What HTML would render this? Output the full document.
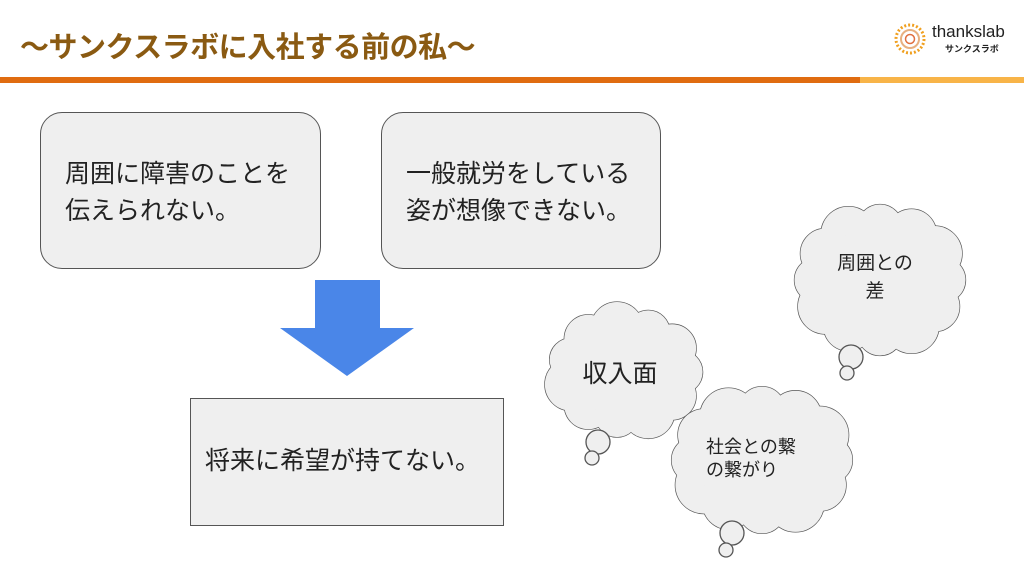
<!DOCTYPE html>
<html><head><meta charset="utf-8"><style>
body{margin:0;width:1024px;height:574px;background:#fff;position:relative;overflow:hidden;font-family:"Liberation Sans","Noto Sans CJK JP",sans-serif;}
.t{position:absolute;left:20px;top:24px;font-size:29px;font-weight:bold;color:#8a5a12;letter-spacing:-0.5px;}
.bar1{position:absolute;left:0;top:77px;width:860px;height:6px;background:#e06c10;}
.bar2{position:absolute;left:860px;top:77px;width:164px;height:6px;background:#f8b448;}
.box{position:absolute;background:#efefef;border:1.5px solid #555;box-sizing:border-box;font-size:25px;color:#222;line-height:37px;}
.ct{position:absolute;color:#222;text-align:center;}
</style></head><body>
<div class="t">～サンクスラボに入社する前の私～</div>
<svg style="position:absolute;left:893px;top:22px" width="34" height="34" viewBox="0 0 34 34">
<circle cx="17" cy="17" r="14" fill="none" stroke="#f0a020" stroke-width="3" stroke-dasharray="2 2"/>
<circle cx="17" cy="17" r="9" fill="none" stroke="#e8b080" stroke-width="2"/>
<circle cx="17" cy="17" r="4.5" fill="none" stroke="#e07040" stroke-width="1.5"/>
</svg>
<div style="position:absolute;left:932px;top:22px;font-size:17px;color:#222;">thankslab</div>
<div style="position:absolute;left:945px;top:42px;font-size:9px;font-weight:bold;color:#222;">サンクスラボ</div>
<div class="bar1"></div><div class="bar2"></div>
<div class="box" style="left:40px;top:112px;width:281px;height:157px;border-radius:22px;padding:43px 0 0 24px;">周囲に障害のことを<br>伝えられない。</div>
<div class="box" style="left:381px;top:112px;width:280px;height:157px;border-radius:22px;padding:43px 0 0 24px;">一般就労をしている<br>姿が想像できない。</div>
<svg style="position:absolute;left:0;top:0" width="1024" height="574">
<polygon points="315,280 380,280 380,328 414,328 347,376 280,328 315,328" fill="#4a86e8"/>
<g id="clouds"></g>
</svg>
<div class="box" style="left:190px;top:398px;width:314px;height:128px;padding:44px 0 0 14px;">将来に希望が持てない。</div>
<div class="ct" style="left:570px;top:354px;width:100px;font-size:25px;">収入面</div>
<div class="ct" style="left:706px;top:436px;width:110px;font-size:18px;text-align:left;line-height:23px;">社会との繋<br>の繋がり</div>
<div class="ct" style="left:820px;top:250px;width:110px;font-size:19px;line-height:28px;">周囲との<br>差</div>
<script>
var g=document.getElementById('clouds'),ns='http://www.w3.org/2000/svg';
function cloud(cx,cy,rx,ry,r,n,tails){
 var cs=[];
 for(var i=0;i<n;i++){var a=i/n*2*Math.PI;cs.push([cx+(rx-r)*Math.cos(a),cy+(ry-r)*Math.sin(a),r*(0.9+0.2*((i*7)%3)/2)]);}
 var pass=function(stroke){
  cs.forEach(function(c){var e=document.createElementNS(ns,'circle');e.setAttribute('cx',c[0]);e.setAttribute('cy',c[1]);e.setAttribute('r',c[2]);e.setAttribute('fill','#efefef');if(stroke){e.setAttribute('stroke','#555');e.setAttribute('stroke-width','1.3');}g.appendChild(e);});
  var e=document.createElementNS(ns,'ellipse');e.setAttribute('cx',cx);e.setAttribute('cy',cy);e.setAttribute('rx',rx-r);e.setAttribute('ry',ry-r);e.setAttribute('fill','#efefef');g.appendChild(e);
 };
 pass(true);pass(false);
 tails.forEach(function(t){var e=document.createElementNS(ns,'circle');e.setAttribute('cx',t[0]);e.setAttribute('cy',t[1]);e.setAttribute('r',t[2]);e.setAttribute('fill','#efefef');e.setAttribute('stroke','#555');e.setAttribute('stroke-width','1.3');g.appendChild(e);});
}
cloud(625,372,80,68,24,11,[[598,442,12],[592,458,7]]);
cloud(762,460,93,76,26,12,[[732,533,12],[726,550,7]]);
cloud(880,280,88,78,25,12,[[851,357,12],[847,373,7]]);
</script>
</body></html>
